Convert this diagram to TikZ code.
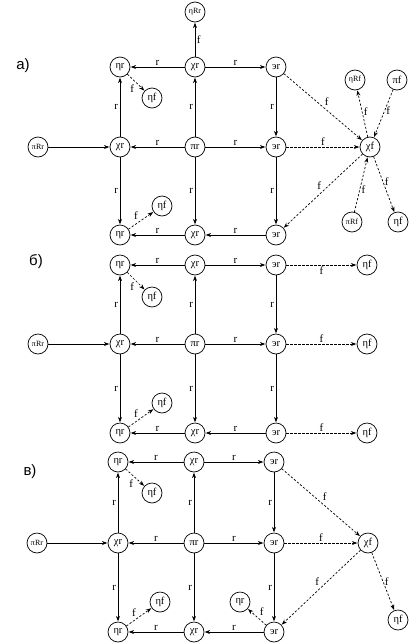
\documentclass[tikz,border=0pt]{standalone}
\usepackage{fontspec}
\setmainfont{Liberation Serif}
\newfontfamily\labfont{Liberation Sans}
\usetikzlibrary{arrows.meta}
\tikzset{
  st/.style={circle, draw, line width=0.7pt, minimum size=20pt, inner sep=0pt, font=\fontsize{10.5}{11}\selectfont},
  sm/.style={st, font=\fontsize{8}{9}\selectfont},
  ar/.style={-{Stealth[length=5.5pt,width=4pt]}, line width=0.7pt, shorten >=0.3pt},
  da/.style={ar, dash pattern=on 2.2pt off 1.8pt},
  lb/.style={font=\fontsize{11}{12}\selectfont, inner sep=1.5pt},
  pl/.style={font=\labfont\fontsize{15}{16}\selectfont, inner sep=0pt},
}
\begin{document}
\begin{tikzpicture}[x=1pt,y=-1pt]
\useasboundingbox (0,0) rectangle (415,643);
% ---------- panel a ----------
\node[pl] (La) at (23,66) {a)};
\node[st] (A11) at (120,67) {ηr};
\node[st] (A12) at (195,67) {χr};
\node[st] (A13) at (276,67) {эr};
\node[st] (A21) at (120,147) {χr};
\node[st] (A22) at (195,147) {πr};
\node[st] (A23) at (276,147) {эr};
\node[st] (A31) at (120,235) {ηr};
\node[st] (A32) at (195,235) {χr};
\node[st] (A33) at (276,235) {эr};
\node[sm] (AR) at (38,147) {πRr};
\node[sm] (AT) at (195,12) {ηRr};
\node[st] (Af1) at (152,98) {ηf};
\node[st] (Af2) at (162,206) {ηf};
\node[st] (AX) at (370,147) {χf};
\node[sm] (AX1) at (355,80) {ηRf};
\node[st] (AX2) at (397,80) {πf};
\node[sm] (AX3) at (352,222) {πRf};
\node[st] (AX4) at (398,222) {ηf};
\draw[ar] (A12) -- node[lb,above]{r} (A11);
\draw[ar] (A12) -- node[lb,above]{r} (A13);
\draw[ar] (A12) -- node[lb,right]{f} (AT);
\draw[ar] (A21) -- node[lb,left]{r} (A11);
\draw[ar] (A22) -- node[lb,left]{r} (A12);
\draw[ar] (A13) -- node[lb,left]{r} (A23);
\draw[ar] (AR) -- (A21);
\draw[ar] (A22) -- node[lb,above]{r} (A21);
\draw[ar] (A22) -- node[lb,above]{r} (A23);
\draw[ar] (A21) -- node[lb,left]{r} (A31);
\draw[ar] (A22) -- node[lb,left]{r} (A32);
\draw[ar] (A23) -- node[lb,left]{r} (A33);
\draw[ar] (A33) -- node[lb,above]{r} (A32);
\draw[ar] (A32) -- node[lb,above]{r} (A31);
\draw[da] (A11) -- node[lb,below left]{f} (Af1);
\draw[da] (A31) -- node[lb,above left,pos=0.45]{f} (Af2);
\draw[da] (A13) -- node[lb,above right]{f} (AX);
\draw[da] (A23) -- node[lb,above]{f} (AX);
\draw[da] (AX) -- node[lb,above left]{f} (A33);
\draw[da] (AX) -- node[lb,right,pos=0.55]{f} (AX1);
\draw[da] (AX2) -- node[lb,right,pos=0.45]{f} (AX);
\draw[da] (AX3) -- node[lb,right,pos=0.4]{f} (AX);
\draw[da] (AX) -- node[lb,right,pos=0.45]{f} (AX4);
% ---------- panel b ----------
\node[pl] (Lb) at (36,262) {б)};
\node[st] (B11) at (120,265) {ηr};
\node[st] (B12) at (195,265) {χr};
\node[st] (B13) at (276,265) {эr};
\node[st] (B14) at (367,265) {ηf};
\node[st] (B21) at (120,344) {χr};
\node[st] (B22) at (195,344) {πr};
\node[st] (B23) at (276,344) {эr};
\node[st] (B24) at (367,344) {ηf};
\node[sm] (BR) at (38,344) {πRr};
\node[st] (B31) at (120,433) {ηr};
\node[st] (B32) at (195,433) {χr};
\node[st] (B33) at (276,433) {эr};
\node[st] (B34) at (367,433) {ηf};
\node[st] (Bf1) at (152,297) {ηf};
\node[st] (Bf2) at (162,403) {ηf};
\draw[ar] (B12) -- node[lb,above]{r} (B11);
\draw[ar] (B12) -- node[lb,above]{r} (B13);
\draw[ar] (B21) -- node[lb,left]{r} (B11);
\draw[ar] (B22) -- node[lb,left]{r} (B12);
\draw[ar] (B13) -- node[lb,left]{r} (B23);
\draw[ar] (BR) -- (B21);
\draw[ar] (B22) -- node[lb,above]{r} (B21);
\draw[ar] (B22) -- node[lb,above]{r} (B23);
\draw[ar] (B21) -- node[lb,left]{r} (B31);
\draw[ar] (B22) -- node[lb,left]{r} (B32);
\draw[ar] (B23) -- node[lb,left]{r} (B33);
\draw[ar] (B33) -- node[lb,above]{r} (B32);
\draw[ar] (B32) -- node[lb,above]{r} (B31);
\draw[da] (B11) -- node[lb,below left]{f} (Bf1);
\draw[da] (B31) -- node[lb,above left,pos=0.45]{f} (Bf2);
\draw[da] (B13) -- node[lb,below]{f} (B14);
\draw[da] (B23) -- node[lb,above]{f} (B24);
\draw[da] (B33) -- node[lb,above]{f} (B34);
% ---------- panel v ----------
\node[pl] (Lc) at (30,472) {в)};
\node[st] (C11) at (118,462) {ηr};
\node[st] (C12) at (194,462) {χr};
\node[st] (C13) at (274,462) {эr};
\node[st] (C21) at (118,543) {χr};
\node[st] (C22) at (194,543) {πr};
\node[st] (C23) at (274,543) {эr};
\node[sm] (CR) at (37,543) {πRr};
\node[st] (CX) at (368,543) {χf};
\node[st] (C31) at (118,632) {ηr};
\node[st] (C32) at (194,632) {χr};
\node[st] (C33) at (274,632) {эr};
\node[st] (Cf1) at (152,493) {ηf};
\node[st] (Cf2) at (160,602) {ηf};
\node[st] (Ceta) at (240,602) {ηr};
\node[st] (Cf3) at (398,620) {ηf};
\draw[ar] (C12) -- node[lb,above]{r} (C11);
\draw[ar] (C12) -- node[lb,above]{r} (C13);
\draw[ar] (C21) -- node[lb,left]{r} (C11);
\draw[ar] (C22) -- node[lb,left]{r} (C12);
\draw[ar] (C13) -- node[lb,left]{r} (C23);
\draw[ar] (CR) -- (C21);
\draw[ar] (C22) -- node[lb,above]{r} (C21);
\draw[ar] (C22) -- node[lb,above]{r} (C23);
\draw[ar] (C21) -- node[lb,left]{r} (C31);
\draw[ar] (C22) -- node[lb,left]{r} (C32);
\draw[ar] (C23) -- node[lb,left]{r} (C33);
\draw[ar] (C33) -- node[lb,above]{r} (C32);
\draw[ar] (C32) -- node[lb,above]{r} (C31);
\draw[da] (C11) -- node[lb,below left]{f} (Cf1);
\draw[da] (C31) -- node[lb,above left,pos=0.45]{f} (Cf2);
\draw[da] (C13) -- node[lb,above right]{f} (CX);
\draw[da] (C23) -- node[lb,above]{f} (CX);
\draw[da] (CX) -- node[lb,above left]{f} (C33);
\draw[da] (CX) -- node[lb,right]{f} (Cf3);
\draw[da] (C33) -- node[lb,above right,pos=0.45]{f} (Ceta);
\end{tikzpicture}
\end{document}
